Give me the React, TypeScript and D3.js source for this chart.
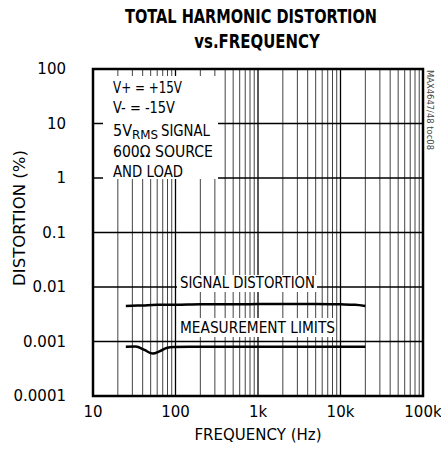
import { line, curveMonotoneX, range, scaleLog } from 'd3'

const freqTicks = [10, 100, 1000, 10000, 100000]
const freqLabels = ['10', '100', '1k', '10k', '100k']
const distTicks = [100, 10, 1, 0.1, 0.01, 0.001, 0.0001]
const distLabels = ['100', '10', '1', '0.1', '0.01', '0.001', '0.0001']

const signalFreq = [25, 40, 60, 100, 200, 500, 1000, 2000, 5000, 10000, 15000, 20000]
const signalDist = [0.0045, 0.0046, 0.0047, 0.0047, 0.0048, 0.0048, 0.0049, 0.0049, 0.0049, 0.0048, 0.0047, 0.0045]

const limitFreq = [25, 33, 42, 53, 64, 78, 95, 150, 500, 1000, 5000, 20000]
const limitDist = [0.00080, 0.00081, 0.00070, 0.00060, 0.00066, 0.00076, 0.00079, 0.0008, 0.0008, 0.0008, 0.0008, 0.0008]

const width = 441
const height = 459
const margin = { top: 69, right: 18, bottom: 63, left: 93 }
const font = '"DejaVu Sans", sans-serif'

// narrow text in the reference: squeeze to the measured width
function Narrow({ x, y, w, size, children, ...rest }: any) {
  return (
    <text x={x} y={y} fontSize={size} textLength={w} lengthAdjust="spacingAndGlyphs" {...rest}>
      {children}
    </text>
  )
}

export default function App() {
  const innerW = width - margin.left - margin.right
  const innerH = height - margin.top - margin.bottom

  const x = scaleLog().domain([10, 100000]).range([0, innerW])
  const y = scaleLog().domain([0.0001, 100]).range([innerH, 0])

  const minorFreqs = freqTicks.slice(0, -1).flatMap((d) => range(2, 10).map((m) => d * m))

  const path = line<number>()
    .x((d) => x(d[0]))
    .y((d) => y(d[1]))
    .curve(curveMonotoneX)

  const signalPts = signalFreq.map((f, i) => [f, signalDist[i]])
  const limitPts = limitFreq.map((f, i) => [f, limitDist[i]])

  return (
    <svg
      width={width}
      height={height}
      style={{ position: 'absolute', left: 0, top: 0, background: '#fff' }}
      fontFamily={font}
    >
      <g transform="translate(251, 23) scale(0.766, 1)">
        <text x={0} y={0} textAnchor="middle" fontSize={19} fontWeight="bold">
          TOTAL HARMONIC DISTORTION
        </text>
      </g>
      <g transform="translate(257, 48) scale(0.786, 1)">
        <text x={0} y={0} textAnchor="middle" fontSize={19} fontWeight="bold">
          vs.FREQUENCY
        </text>
      </g>

      <g transform={`translate(${margin.left}, ${margin.top})`}>
        {minorFreqs.map((f) => (
          <line key={f} x1={x(f)} x2={x(f)} y1={0} y2={innerH} stroke="#444" strokeWidth={1} />
        ))}
        {freqTicks.map((f) => (
          <line key={f} x1={x(f)} x2={x(f)} y1={0} y2={innerH} stroke="#000" strokeWidth={1.3} />
        ))}
        {distTicks.map((d) => (
          <line key={d} x1={0} x2={innerW} y1={y(d)} y2={y(d)} stroke="#000" strokeWidth={1.3} />
        ))}

        <rect x={10} y={7} width={115} height={103} fill="#fff" />
        <rect x={84} y={206} width={140} height={17} fill="#fff" />
        <rect x={84} y={249} width={158} height={19} fill="#fff" />

        <Narrow x={20} y={24} w={69} size={16}>V+ = +15V</Narrow>
        <Narrow x={20} y={44} w={62} size={16}>V- = -15V</Narrow>
        <Narrow x={20} y={67} w={19} size={16}>5V</Narrow>
        <Narrow x={39} y={70} w={26} size={12}>RMS</Narrow>
        <Narrow x={68} y={67} w={49} size={16}>SIGNAL</Narrow>
        <Narrow x={20} y={88} w={100} size={16}>600Ω SOURCE</Narrow>
        <Narrow x={20} y={108} w={70} size={16}>AND LOAD</Narrow>

        <Narrow x={87} y={219} w={135} size={16}>SIGNAL DISTORTION</Narrow>
        <Narrow x={87} y={264} w={155} size={16}>MEASUREMENT LIMITS</Narrow>

        <path d={path(signalPts as any) ?? ''} fill="none" stroke="#000" strokeWidth={2.5} />
        <path d={path(limitPts as any) ?? ''} fill="none" stroke="#000" strokeWidth={2.5} />

        <rect x={0} y={0} width={innerW} height={innerH} fill="none" stroke="#000" strokeWidth={2.5} />

        {distTicks.map((d, i) => (
          <text key={d} x={-27} y={y(d)} dy="0.35em" textAnchor="end" fontSize={15}>
            {distLabels[i]}
          </text>
        ))}
        {freqTicks.map((f, i) => (
          <text key={f} x={x(f)} y={innerH + 21} textAnchor="middle" fontSize={15}>
            {freqLabels[i]}
          </text>
        ))}
        <text x={innerW / 2} y={innerH + 44} textAnchor="middle" fontSize={15}>
          FREQUENCY (Hz)
        </text>
        <text
          transform={`translate(-68, 149) rotate(-90)`}
          textAnchor="middle"
          fontSize={15}
          textLength={136}
          lengthAdjust="spacingAndGlyphs"
        >
          DISTORTION (%)
        </text>
      </g>

      <text
        transform="translate(427, 70) rotate(90)"
        fontSize={9}
        fill="#444"
        textLength={80}
        lengthAdjust="spacingAndGlyphs"
      >
        MAX4647/48 toc08
      </text>
    </svg>
  )
}
